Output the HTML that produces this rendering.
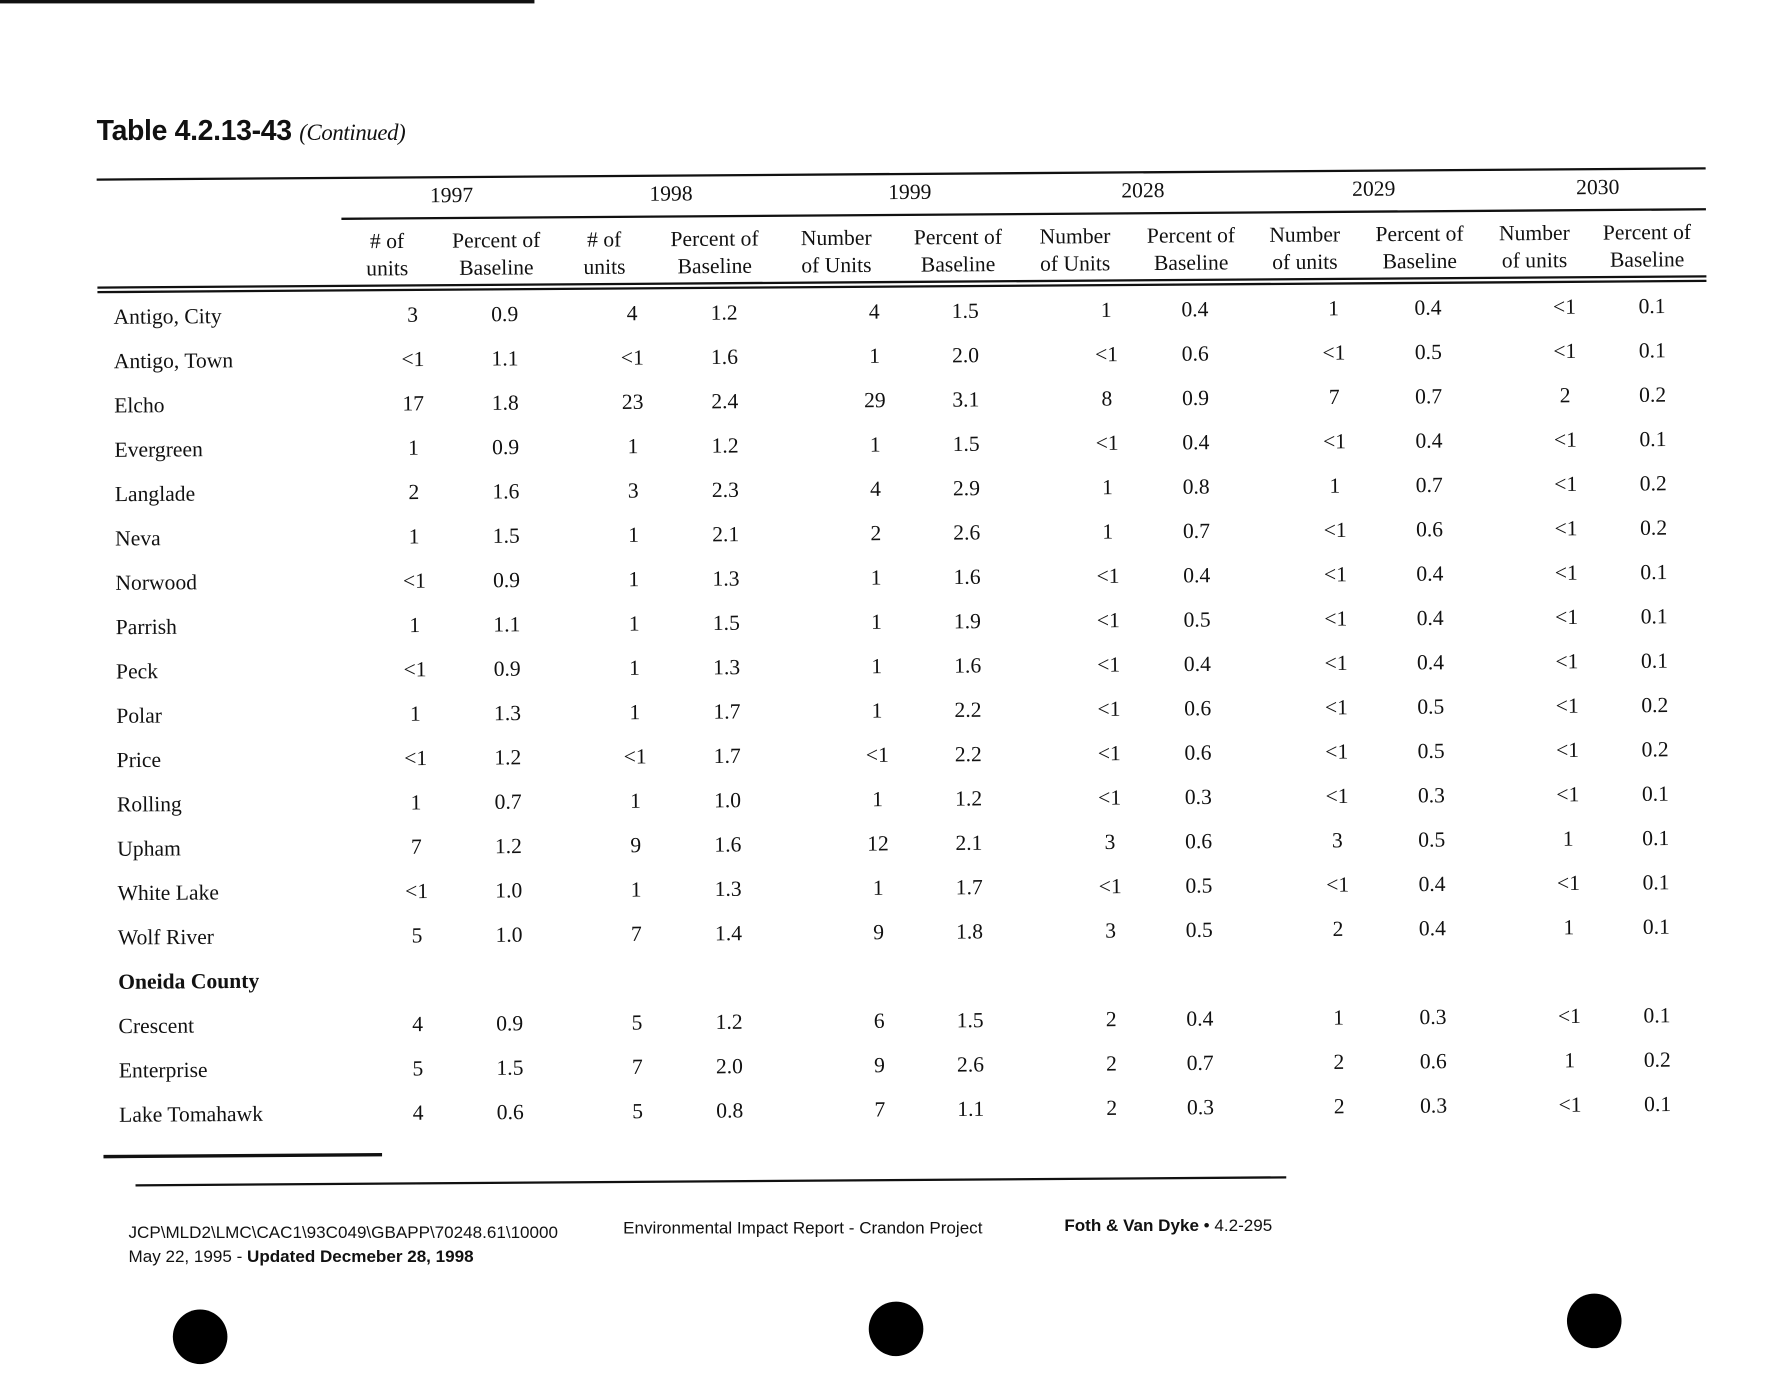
<!DOCTYPE html>
<html><head><meta charset="utf-8">
<style>
html,body{margin:0;padding:0;background:#fff;width:1783px;height:1380px;overflow:hidden}
#pg{position:absolute;left:0;top:0;width:1568px;height:1214px;transform:scale(1.13712,1.13674);transform-origin:0 0;font-family:"Liberation Serif",serif;color:#111}
#rot{position:absolute;left:0;top:0;width:1568px;height:1214px;transform:rotate(-0.4deg);transform-origin:85px 158px}
.a{position:absolute;white-space:nowrap}
.row{position:absolute;left:0;width:1568px;height:50px;font-size:19px;line-height:22px}
.row span{position:absolute;top:0;width:120px;text-align:center;white-space:nowrap}
.row span:nth-child(1){left:99px;text-align:left;width:250px}
.row span:nth-child(2){left:302px}
.row span:nth-child(3){left:383px}
.row span:nth-child(4){left:495px}
.row span:nth-child(5){left:576px}
.row span:nth-child(6){left:708px}
.row span:nth-child(7){left:788px}
.row span:nth-child(8){left:912px}
.row span:nth-child(9){left:990px}
.row span:nth-child(10){left:1112px}
.row span:nth-child(11){left:1195px}
.row span:nth-child(12){left:1315px}
.row span:nth-child(13){left:1392px}
.hdr span{line-height:24px}
.hdr span:nth-child(2){left:280px}
.hdr span:nth-child(3){left:376px}
.hdr span:nth-child(4){left:471px}
.hdr span:nth-child(5){left:568px}
.hdr span:nth-child(6){left:675px}
.hdr span:nth-child(7){left:782px}
.hdr span:nth-child(8){left:885px}
.hdr span:nth-child(9){left:987px}
.hdr span:nth-child(10){left:1087px}
.hdr span:nth-child(11){left:1188px}
.hdr span:nth-child(12){left:1289px}
.hdr span:nth-child(13){left:1388px}
.yr{position:absolute;font-size:19px;width:120px;text-align:center}
.rule{position:absolute;background:#111}
.dot{position:absolute;width:48px;height:48px;border-radius:50%;background:#000}
.sans{font-family:"Liberation Sans",sans-serif}
</style></head><body>
<div id="pg">
<div class="rule" style="left:0;top:0;width:470px;height:3px"></div>
<div class="a sans" style="left:85px;top:101px;font-size:25px;font-weight:bold;letter-spacing:-0.3px">Table 4.2.13-43 <span style="font-family:'Liberation Serif',serif;font-style:italic;font-weight:normal;font-size:20px">(Continued)</span></div>
<div id="rot">
<div class="rule" style="left:85px;top:157px;width:1415px;height:2px"></div>
<div class="yr" style="left:337px;top:164px">1997</div>
<div class="yr" style="left:530px;top:164px">1998</div>
<div class="yr" style="left:740px;top:164px">1999</div>
<div class="yr" style="left:945px;top:164px">2028</div>
<div class="yr" style="left:1148px;top:164px">2029</div>
<div class="yr" style="left:1345px;top:164px">2030</div>
<div class="rule" style="left:300px;top:193px;width:1200px;height:1.5px"></div>
<div class="row hdr" style="top:203px"><span></span>
<span># of<br>units</span><span>Percent of<br>Baseline</span><span># of<br>units</span><span>Percent of<br>Baseline</span><span>Number<br>of Units</span><span>Percent of<br>Baseline</span><span>Number<br>of Units</span><span>Percent of<br>Baseline</span><span>Number<br>of units</span><span>Percent of<br>Baseline</span><span>Number<br>of units</span><span>Percent of<br>Baseline</span></div>
<div class="rule" style="left:85px;top:252px;width:1415px;height:2px"></div>
<div class="rule" style="left:85px;top:256px;width:1415px;height:2px"></div>

<div class="row" style="top:269px"><span>Antigo, City</span><span>3</span><span>0.9</span><span>4</span><span>1.2</span><span>4</span><span>1.5</span><span>1</span><span>0.4</span><span>1</span><span>0.4</span><span>&lt;1</span><span>0.1</span></div>
<div class="row" style="top:308px"><span>Antigo, Town</span><span>&lt;1</span><span>1.1</span><span>&lt;1</span><span>1.6</span><span>1</span><span>2.0</span><span>&lt;1</span><span>0.6</span><span>&lt;1</span><span>0.5</span><span>&lt;1</span><span>0.1</span></div>
<div class="row" style="top:347px"><span>Elcho</span><span>17</span><span>1.8</span><span>23</span><span>2.4</span><span>29</span><span>3.1</span><span>8</span><span>0.9</span><span>7</span><span>0.7</span><span>2</span><span>0.2</span></div>
<div class="row" style="top:386px"><span>Evergreen</span><span>1</span><span>0.9</span><span>1</span><span>1.2</span><span>1</span><span>1.5</span><span>&lt;1</span><span>0.4</span><span>&lt;1</span><span>0.4</span><span>&lt;1</span><span>0.1</span></div>
<div class="row" style="top:425px"><span>Langlade</span><span>2</span><span>1.6</span><span>3</span><span>2.3</span><span>4</span><span>2.9</span><span>1</span><span>0.8</span><span>1</span><span>0.7</span><span>&lt;1</span><span>0.2</span></div>
<div class="row" style="top:464px"><span>Neva</span><span>1</span><span>1.5</span><span>1</span><span>2.1</span><span>2</span><span>2.6</span><span>1</span><span>0.7</span><span>&lt;1</span><span>0.6</span><span>&lt;1</span><span>0.2</span></div>
<div class="row" style="top:503px"><span>Norwood</span><span>&lt;1</span><span>0.9</span><span>1</span><span>1.3</span><span>1</span><span>1.6</span><span>&lt;1</span><span>0.4</span><span>&lt;1</span><span>0.4</span><span>&lt;1</span><span>0.1</span></div>
<div class="row" style="top:542px"><span>Parrish</span><span>1</span><span>1.1</span><span>1</span><span>1.5</span><span>1</span><span>1.9</span><span>&lt;1</span><span>0.5</span><span>&lt;1</span><span>0.4</span><span>&lt;1</span><span>0.1</span></div>
<div class="row" style="top:581px"><span>Peck</span><span>&lt;1</span><span>0.9</span><span>1</span><span>1.3</span><span>1</span><span>1.6</span><span>&lt;1</span><span>0.4</span><span>&lt;1</span><span>0.4</span><span>&lt;1</span><span>0.1</span></div>
<div class="row" style="top:620px"><span>Polar</span><span>1</span><span>1.3</span><span>1</span><span>1.7</span><span>1</span><span>2.2</span><span>&lt;1</span><span>0.6</span><span>&lt;1</span><span>0.5</span><span>&lt;1</span><span>0.2</span></div>
<div class="row" style="top:659px"><span>Price</span><span>&lt;1</span><span>1.2</span><span>&lt;1</span><span>1.7</span><span>&lt;1</span><span>2.2</span><span>&lt;1</span><span>0.6</span><span>&lt;1</span><span>0.5</span><span>&lt;1</span><span>0.2</span></div>
<div class="row" style="top:698px"><span>Rolling</span><span>1</span><span>0.7</span><span>1</span><span>1.0</span><span>1</span><span>1.2</span><span>&lt;1</span><span>0.3</span><span>&lt;1</span><span>0.3</span><span>&lt;1</span><span>0.1</span></div>
<div class="row" style="top:737px"><span>Upham</span><span>7</span><span>1.2</span><span>9</span><span>1.6</span><span>12</span><span>2.1</span><span>3</span><span>0.6</span><span>3</span><span>0.5</span><span>1</span><span>0.1</span></div>
<div class="row" style="top:776px"><span>White Lake</span><span>&lt;1</span><span>1.0</span><span>1</span><span>1.3</span><span>1</span><span>1.7</span><span>&lt;1</span><span>0.5</span><span>&lt;1</span><span>0.4</span><span>&lt;1</span><span>0.1</span></div>
<div class="row" style="top:815px"><span>Wolf River</span><span>5</span><span>1.0</span><span>7</span><span>1.4</span><span>9</span><span>1.8</span><span>3</span><span>0.5</span><span>2</span><span>0.4</span><span>1</span><span>0.1</span></div>
<div class="row" style="top:854px"><span style="font-weight:bold">Oneida County</span></div>
<div class="row" style="top:893px"><span>Crescent</span><span>4</span><span>0.9</span><span>5</span><span>1.2</span><span>6</span><span>1.5</span><span>2</span><span>0.4</span><span>1</span><span>0.3</span><span>&lt;1</span><span>0.1</span></div>
<div class="row" style="top:932px"><span>Enterprise</span><span>5</span><span>1.5</span><span>7</span><span>2.0</span><span>9</span><span>2.6</span><span>2</span><span>0.7</span><span>2</span><span>0.6</span><span>1</span><span>0.2</span></div>
<div class="row" style="top:971px"><span>Lake Tomahawk</span><span>4</span><span>0.6</span><span>5</span><span>0.8</span><span>7</span><span>1.1</span><span>2</span><span>0.3</span><span>2</span><span>0.3</span><span>&lt;1</span><span>0.1</span></div>
<div class="rule" style="left:85px;top:1016px;width:245px;height:3px"></div>
<div class="rule" style="left:113px;top:1042px;width:1012px;height:2px"></div>
</div>
<div class="a sans" style="left:113px;top:1074px;font-size:15px;line-height:21px">JCP\MLD2\LMC\CAC1\93C049\GBAPP\70248.61\10000<br>May 22, 1995 - <b>Updated Decmeber 28, 1998</b></div>
<div class="a sans" style="left:548px;top:1072px;font-size:15px">Environmental Impact Report - Crandon Project</div>
<div class="a sans" style="left:936px;top:1070px;font-size:15px"><b>Foth &amp; Van Dyke</b> • 4.2-295</div>
<div class="dot" style="left:152px;top:1152px"></div>
<div class="dot" style="left:764px;top:1145px"></div>
<div class="dot" style="left:1378px;top:1138px"></div>
</div>
</body></html>
